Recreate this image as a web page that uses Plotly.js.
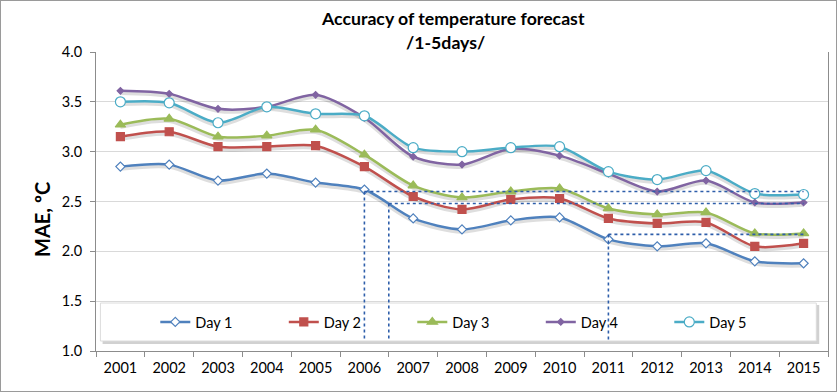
<!DOCTYPE html>
<html>
<head>
<meta charset="utf-8">
<script src="https://cdn.plot.ly/plotly-3.0.1.min.js"></script>
<style>
html,body{margin:0;padding:0;background:#fff;}
#chart{width:837px;height:392px;box-sizing:border-box;border:1px solid #9a9a9a;}
</style>
</head>
<body>
<div id="chart"></div>
<script>
const years = ['2001','2002','2003','2004','2005','2006','2007','2008','2009','2010','2011','2012','2013','2014','2015'];
const day1 = [2.85, 2.87, 2.71, 2.78, 2.69, 2.62, 2.33, 2.22, 2.31, 2.34, 2.12, 2.05, 2.08, 1.90, 1.88];
const day2 = [3.15, 3.20, 3.05, 3.05, 3.06, 2.85, 2.55, 2.42, 2.52, 2.53, 2.33, 2.28, 2.29, 2.05, 2.08];
const day3 = [3.27, 3.33, 3.15, 3.16, 3.22, 2.97, 2.66, 2.54, 2.60, 2.63, 2.43, 2.37, 2.39, 2.18, 2.18];
const day4 = [3.61, 3.58, 3.43, 3.45, 3.57, 3.34, 2.95, 2.87, 3.03, 2.96, 2.78, 2.60, 2.71, 2.49, 2.49];
const day5 = [3.50, 3.49, 3.29, 3.45, 3.38, 3.36, 3.04, 3.00, 3.04, 3.05, 2.80, 2.72, 2.81, 2.58, 2.57];
const seriesNames = ['Day 1','Day 2','Day 3','Day 4','Day 5'];
const yTicks = [1.0, 1.5, 2.0, 2.5, 3.0, 3.5, 4.0];
const titleLines = ['Accuracy of temperature forecast', '/1-5days/'];
const yTitle = 'MAE, ºC';
// guide lines (category index positions and MAE levels)
const guideLevels = [2.60, 2.48, 2.17];
const guideStartIdx = [5, 5.5, 10];
const guideEndIdx = 14;
const guideBottom = 1.1;

const colors = ['#4F81BD','#C0504D','#9BBB59','#8064A2','#4BACC6'];
const symbols = ['diamond','square','triangle-up','diamond','circle'];
const fills = ['#ffffff','#C0504D','#9BBB59','#8064A2','#ffffff'];
const sizes = [7, 8, 9, 5, 10];
const allData = [day1, day2, day3, day4, day5];

const traces = [];
// soft shadows
allData.forEach((d, i) => {
  traces.push({
    x: years, y: d.map(v => v - 0.025), type: 'scatter', mode: 'lines',
    line: {color: 'rgba(0,0,0,0.13)', width: 3.5, shape: 'spline', smoothing: 0.8},
    hoverinfo: 'skip', showlegend: false
  });
});
allData.forEach((d, i) => {
  traces.push({
    x: years, y: d, name: seriesNames[i], type: 'scatter', mode: 'lines+markers',
    line: {color: colors[i], width: 2.5, shape: 'spline', smoothing: 0.8},
    marker: {symbol: symbols[i], size: sizes[i], color: fills[i], line: {color: colors[i], width: 1.2}}
  });
});

const shapes = [];
// legend box
shapes.push({type:'rect', xref:'paper', yref:'paper', x0:0.009, x1:0.988, y0:(351-344)/299, y1:(351-305)/299,
  fillcolor:'rgba(0,0,0,0.18)', line:{width:0}, layer:'between'});
shapes.push({type:'rect', xref:'paper', yref:'paper', x0:0.006, x1:0.984, y0:(351-341)/299, y1:(351-303)/299,
  fillcolor:'#ffffff', line:{color:'#dcdcdc', width:1}, layer:'between'});
const dotLine = {color:'#2E5EAA', width:1.6, dash:'dot'};
guideLevels.forEach((lv, i) => {
  shapes.push({type:'line', xref:'x', yref:'y', x0:guideStartIdx[i], x1:guideEndIdx, y0:lv, y1:lv, line:dotLine, layer:'above'});
  shapes.push({type:'line', xref:'x', yref:'y', x0:guideStartIdx[i], x1:guideStartIdx[i], y0:lv, y1:guideBottom, line:dotLine, layer:'above'});
});

const fontFam = 'Lato, "Open Sans", sans-serif';
const annotations = [
  {text: '<b>' + titleLines[0] + '</b>', xref: 'paper', yref: 'paper', x: (453-96)/731, y: (351-18)/299,
   xanchor: 'center', yanchor: 'middle', showarrow: false, font: {family: fontFam, size: 17.7, color: '#000'}},
  {text: '<b>' + titleLines[1] + '</b>', xref: 'paper', yref: 'paper', x: (445-96)/731, y: (351-42)/299,
   xanchor: 'center', yanchor: 'middle', showarrow: false, font: {family: fontFam, size: 17.7, color: '#000'}},
  {text: '<b>' + yTitle + '</b>', xref: 'paper', yref: 'paper', x: (42-96)/731, y: (351-219)/299,
   xanchor: 'center', yanchor: 'middle', textangle: -90, showarrow: false, font: {family: fontFam, size: 20, color: '#000'}}
];

const layout = {
  width: 835, height: 390,
  margin: {l: 95, r: 8, t: 51, b: 40},
  paper_bgcolor: '#ffffff', plot_bgcolor: '#ffffff',
  font: {family: fontFam, size: 14, color: '#000'},
  xaxis: {type: 'category', range: [-0.5, 14.5], tickson: 'boundaries', ticks: 'outside', ticklen: 5,
          tickcolor: '#8c8c8c', showline: true, linecolor: '#8c8c8c', linewidth: 1, showgrid: false,
          tickfont: {size: 14.5}, ticklabelstandoff: 4, fixedrange: true},
  yaxis: {range: [1, 4], tickvals: yTicks, ticktext: yTicks.map(v => v.toFixed(1)), ticks: 'outside', ticklen: 5,
          tickcolor: '#8c8c8c', showline: true, linecolor: '#8c8c8c', mirror: true, linewidth: 1,
          gridcolor: '#d9d9d9', gridwidth: 1, zeroline: false, tickfont: {size: 14.5}, ticklabelstandoff: 5, fixedrange: true},
  legend: {orientation: 'h', x: 0.081, xanchor: 'left', y: (351-322)/299, yanchor: 'middle',
           bgcolor: 'rgba(0,0,0,0)', font: {size: 14.5}, entrywidth: 83.5, entrywidthmode: 'pixels', itemwidth: 30},
  annotations: annotations,
  shapes: shapes,
  showlegend: true
};

Plotly.newPlot('chart', traces, layout, {displayModeBar: false, staticPlot: true});
</script>
</body>
</html>
